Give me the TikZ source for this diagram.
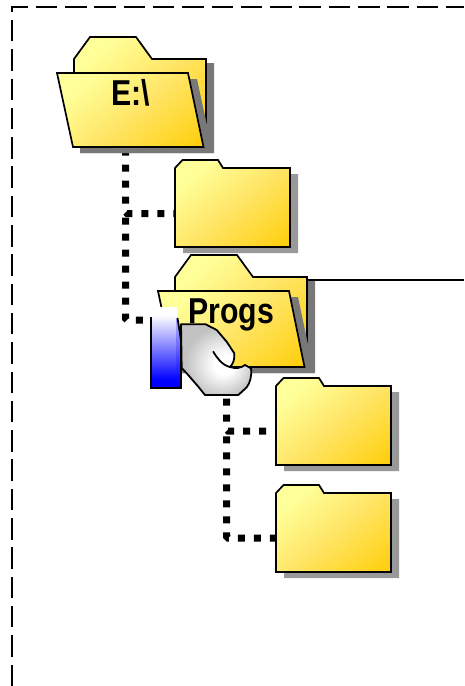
\documentclass[tikz,border=0pt]{standalone}
\usepackage{fontspec}
\usepackage{graphicx}
\setmainfont{Liberation Sans}
\usetikzlibrary{calc,backgrounds}
\definecolor{fy}{HTML}{FFFF99}
\definecolor{fm}{HTML}{FFE566}
\definecolor{fo}{HTML}{FFCC00}
\definecolor{hg}{gray}{0.76}
\pgfdeclareverticalshading{foldshade}{100bp}{color(0bp)=(fo);color(12bp)=(fo);color(48bp)=(fm);color(74bp)=(fy);color(100bp)=(fy)}
\pgfdeclareverticalshading{cuffshade}{100bp}{color(0bp)=(blue);color(30bp)=(blue);color(70bp)=(white);color(100bp)=(white)}
\pgfdeclareverticalshading{stripeshade}{100bp}{color(0bp)=(blue);color(30bp)=(blue);color(70bp)=(blue!35!white);color(100bp)=(blue!35!white)}
\pgfdeclareradialshading{handshade}{\pgfpoint{6bp}{-4bp}}{color(0bp)=(white);color(7bp)=(white);color(25bp)=(hg);color(50bp)=(hg)}
\tikzset{
  x=1pt,y=-1pt,
  folderfill/.style={draw=black,line width=1.7pt,line join=miter,shade,shading=foldshade,shading angle=40},
  bigshadow/.style={fill=black!53,draw=none},
  smallshadow/.style={fill=black!40,draw=none},
  conn/.style={draw=black,line width=7pt,dash pattern=on 7pt off 9pt,rounded corners=1.5pt},
  frameline/.style={draw=black,line width=2pt,dash pattern=on 21.5pt off 7.8pt},
  folderlabel/.style={font=\bfseries\fontsize{36}{40}\selectfont,inner sep=0pt,anchor=base},
  handskin/.style={draw=black,line width=1.8pt,line join=round,shade,shading=handshade},
}
\newcommand{\smallfolder}[3]{% name, x (left), y (body top)
  \fill[smallshadow] (#2+8,#3-2) -- (#2+43,#3-2) -- (#2+48,#3+6) -- (#2+123,#3+6) -- (#2+123,#3+85) -- (#2+8,#3+85) -- cycle;
  \path[folderfill] (#2,#3) -- (#2+7.5,#3-8) -- (#2+43,#3-8) -- (#2+48,#3) -- (#2+115,#3) -- (#2+115,#3+79) -- (#2,#3+79) -- cycle;
  \node[inner sep=0pt,minimum width=115pt,minimum height=79pt] (#1) at (#2+57.5,#3+39.5) {};
}
\newcommand{\bigfolder}[3]{% x of back left, y of back body top, front bottom offset
  \fill[bigshadow] (#1+16,#2-18) -- (#1+66,#2-18) -- (#1+80,#2+4) -- (#1+140,#2+4) -- (#1+140,#2+#3+6) -- (#1+6,#2+#3+6) -- (#1+6,#2+60) -- cycle;
  \path[folderfill] (#1,#2) -- (#1+16,#2-22) -- (#1+62,#2-22) -- (#1+78,#2) -- (#1+132,#2) -- (#1+132,#2+80) -- (#1,#2+80) -- cycle;
  \fill[bigshadow] (#1-8,#2+20) -- (#1+123,#2+20) -- (#1+139,#2+#3+6) -- (#1+7,#2+#3+6) -- cycle;
}
\newcommand{\bigfront}[4]{% name, x, y, bottom offset
  \path[folderfill] (#2-17,#3+14) -- (#2+114,#3+14) -- (#2+129.5,#3+#4) -- (#2-1,#3+#4) -- cycle;
  \node[inner sep=0pt,minimum width=130pt,minimum height=74pt] (#1) at (#2+56,#3+51) {};
}
\begin{document}
\begin{tikzpicture}
\useasboundingbox (0,0) rectangle (464,686);
\begin{pgfonlayer}{background}
\fill[white] (0,0) rectangle (464,686);
\end{pgfonlayer}

% frame
\coordinate (frameA) at (464,7);
\coordinate (frameB) at (11.5,7);
\coordinate (frameC) at (11.5,686);
\draw[frameline] (frameC) -- (frameB) -- (frameA);

% folders
\bigfolder{74}{59}{88}
\bigfront{efolder}{74}{59}{88}
\node[folderlabel] (etext) at (130.5,105) {\scalebox{0.84}[1]{E:\textbackslash}};

\smallfolder{fa}{175}{168}

\bigfolder{175}{277}{90}
\bigfront{pfolder}{175}{277}{90}
\node[folderlabel] (ptext) at (231,323) {\scalebox{0.84}[1]{Progs}};

\smallfolder{fb}{276}{386}
\smallfolder{fc}{276}{493}

% hand
\path[handskin] (181,324.3) -- (205.7,324.3) -- (216.7,330) -- (226.7,341.7) -- (234.3,353.3)
  .. controls (235,359) and (233,364) .. (230,367)
  .. controls (236,369) and (241,368) .. (245,365)
  -- (251,368.3) .. controls (252,376) and (250,383) .. (246.7,387.3) -- (238.3,395) -- (205,395) -- (198.3,386.7) -- (186.7,373.3) -- (181.7,368) -- cycle;
\draw[black,line width=1.8pt,line cap=round] (213.3,351.7) .. controls (217,358) and (222,365) .. (230,367);
% cuff
\path[shade,shading=cuffshade] (151,307) -- (177,307) -- (177,388) -- (151,388) -- cycle;
\path[shade,shading=stripeshade] (176.5,318) -- (177.5,318) -- (181,340) -- (181,388) -- (176.5,388) -- cycle;
\draw[black,line width=1.8pt] (151,317) -- (151,388) -- (181,388) -- (181,340) -- (177.5,318);

% connectors
\coordinate (ja) at (125.5,148.5);
\coordinate (jb) at (125.5,217.5);
\coordinate (jd) at (151,320);
\coordinate (je) at (226.7,382.5);
\coordinate (jf) at (226.7,436.3);
\coordinate (faPort) at ($(fa.west)+(0,6)$);
\coordinate (fbPort) at ($(fb.west)+(0,5.5)$);
\coordinate (fcPort) at ($(fc.west)+(0,5.5)$);
\begin{pgfonlayer}{background}
\draw[conn] (ja) |- (faPort);
\draw[conn] (jb) |- (jd);
\draw[conn] (je) |- (fbPort);
\draw[conn] (jf) |- (fcPort);
\end{pgfonlayer}

% line to the right
\coordinate (lineStart) at (307,279.5);
\coordinate (lineEnd) at (464,279.5);
\draw[black,line width=2pt] (lineStart) -- (lineEnd);

\end{tikzpicture}
\end{document}
